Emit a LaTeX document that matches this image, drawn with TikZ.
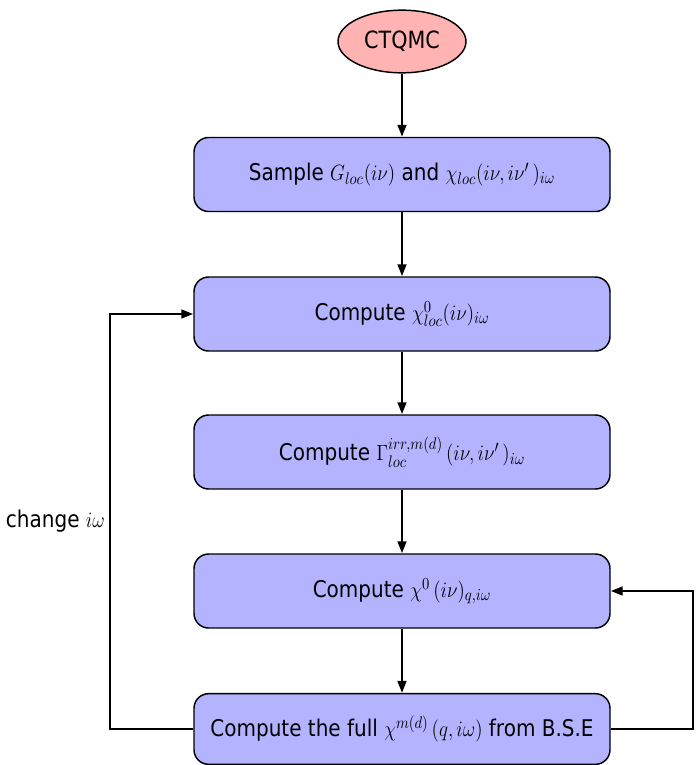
\documentclass[tikz,border=0pt]{standalone}
\usepackage{fontspec}
\usepackage{graphicx}
\setmainfont{DejaVu Sans}
\usetikzlibrary{arrows.meta,shapes.geometric}
\definecolor{boxfill}{HTML}{B3B3FF}
\definecolor{ellfill}{HTML}{FFB3B3}
\newcommand{\tallt}[1]{\scalebox{1}[1.15]{#1}}
\begin{document}
\begin{tikzpicture}[x=0.75pt,y=-0.75pt,
  stepbox/.style={draw=black,line width=1.1pt,fill=boxfill,rounded corners=11pt,
    minimum width=312pt,minimum height=55.5pt,inner sep=0pt,font=\fontsize{15}{18}\selectfont},
  conn/.style={line width=1.8pt,-{Triangle[length=9pt,width=6.5pt]}}]
\useasboundingbox (0,0) rectangle (696,765);
\node[ellipse,draw=black,line width=1.1pt,fill=ellfill,minimum width=96pt,minimum height=47pt,
  inner sep=0pt,font=\fontsize{15.5}{18}\selectfont] (ct) at (402,41.5) {\tallt{CTQMC}};
\node[stepbox] (b1) at (402,174.5) {\tallt{Sample $G_{loc}(i\nu)$ and $\chi_{loc}(i\nu,i\nu'\,)_{i\omega}$}};
\node[stepbox] (b2) at (402,314) {\tallt{Compute $\chi^0_{loc}(i\nu)_{i\omega}$}};
\node[stepbox] (b3) at (402,452) {\tallt{Compute $\Gamma^{irr,m(d)}_{loc}\,(i\nu,i\nu'\,)_{i\omega}$}};
\node[stepbox] (b4) at (402,591) {\tallt{Compute $\chi^0\,(i\nu)_{q,i\omega}$}};
\node[stepbox,minimum height=53pt] (b5) at (402,729) {\tallt{Compute the full $\chi^{m(d)}\,(q,i\omega)$ from B.S.E}};
\coordinate (l1) at (110,729);
\coordinate (l2) at (110,314);
\coordinate (r1) at (693,729);
\coordinate (r2) at (693,591);
\node[anchor=east,inner sep=0pt,font=\fontsize{15}{18}\selectfont] (lab) at (105,521) {\tallt{change $i\omega$}};
\draw[conn] (ct) -- (b1);
\draw[conn] (b1) -- (b2);
\draw[conn] (b2) -- (b3);
\draw[conn] (b3) -- (b4);
\draw[conn] (b4) -- (b5);
\draw[conn] (b5.west) -- (l1) -- (l2) -- (b2.west);
\draw[conn] (b5.east) -- (r1) -- (r2) -- (b4.east);
\end{tikzpicture}
\end{document}
